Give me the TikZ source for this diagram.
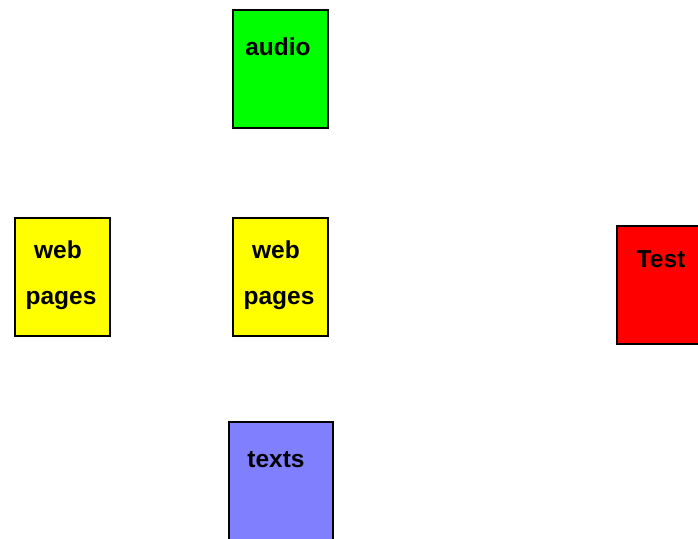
\documentclass[tikz,border=0pt]{standalone}
\usepackage{fontspec}
\setmainfont{Liberation Sans}
\definecolor{boxgreen}{HTML}{00FF00}
\definecolor{boxyellow}{HTML}{FFFF00}
\definecolor{boxred}{HTML}{FF0000}
\definecolor{boxblue}{HTML}{8080FF}
\tikzset{
  card/.style={draw=black, line width=1.5pt, rectangle, inner sep=0pt, minimum width=95pt, minimum height=118pt, anchor=north west},
  cardtext/.style={font=\fontsize{24.5}{50}\selectfont\bfseries, align=center, inner sep=0pt}
}
\begin{document}
\begin{tikzpicture}[x=1pt,y=-1pt]
\useasboundingbox (0,0) rectangle (698,538);
\fill[white] (0,0) rectangle (698,538);
\node[card, fill=boxgreen] (audio) at (232,9) {};
\node[card, fill=boxyellow] (webL) at (14,217) {};
\node[card, fill=boxyellow] (webC) at (232,217) {};
\node[card, fill=boxred] (test) at (616,225) {};
\node[card, fill=boxblue, minimum width=104pt, minimum height=125pt] (texts) at (228,421) {};
\node[cardtext] (audioT) at (278,47) {audio};
\node[cardtext] (webLT1) at (58,250) {web};
\node[cardtext] (webLT2) at (61,300) {pages};
\node[cardtext] (webCT1) at (276,250) {web};
\node[cardtext] (webCT2) at (279,300) {pages};
\node[cardtext] (testT) at (661,259) {Test};
\node[cardtext] (textsT) at (276,460) {texts};
\end{tikzpicture}
\end{document}
